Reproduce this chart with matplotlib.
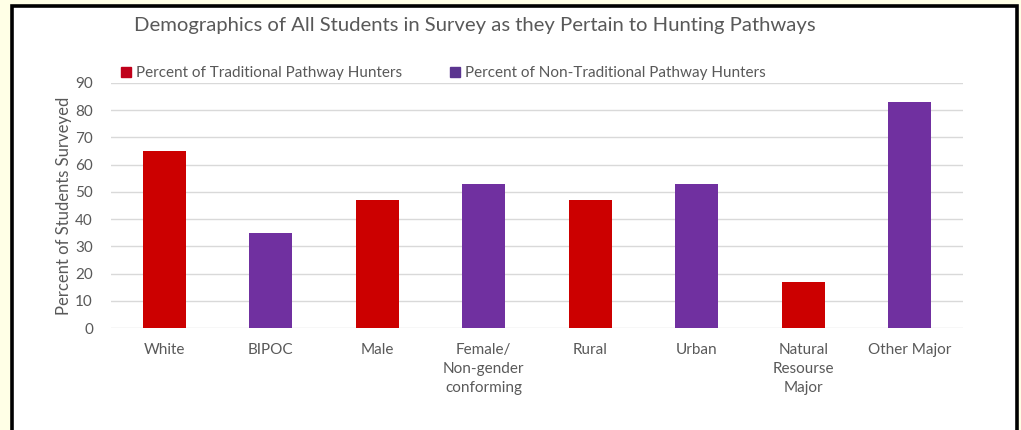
import matplotlib
matplotlib.use("Agg")
import matplotlib.pyplot as plt
from matplotlib.patches import Rectangle
from matplotlib.lines import Line2D
import numpy as np

categories = ["White", "BIPOC", "Male", "Female/\nNon-gender\nconforming",
              "Rural", "Urban", "Natural\nResourse\nMajor", "Other Major"]
traditional = [65, None, 47, None, 47, None, 17, None]
non_traditional = [None, 35, None, 53, None, 53, None, 83]
series_names = ["Percent of Traditional Pathway Hunters",
                "Percent of Non-Traditional Pathway Hunters"]
y_ticks = [0, 10, 20, 30, 40, 50, 60, 70, 80, 90]

RED = "#CC0000"
PURPLE = "#7030A0"
GRAY = "#595959"

plt.rcParams['font.family'] = ['Lato', 'DejaVu Sans']

W, H = 1021, 430
fig = plt.figure(figsize=(W / 100, H / 100), dpi=100)
fig.patch.set_facecolor("#FFFFE6")

# white panel with black frame
fig.patches.append(Rectangle((11.5 / W, -0.05), (1016.5 - 11.5) / W, (H - 5.5) / H + 0.05,
                             transform=fig.transFigure, facecolor="white",
                             edgecolor="black", linewidth=2.6, zorder=-10))

ax = fig.add_axes([111 / W, (H - 328) / H, (963 - 111) / W, (328 - 83) / H])
ax.set_facecolor("none")
ax.set_zorder(1)

x = np.arange(len(categories))
t_x = [i for i, v in enumerate(traditional) if v is not None]
t_v = [v for v in traditional if v is not None]
n_x = [i for i, v in enumerate(non_traditional) if v is not None]
n_v = [v for v in non_traditional if v is not None]
ax.bar(t_x, t_v, width=0.4, color=RED, zorder=3)
ax.bar(n_x, n_v, width=0.4, color=PURPLE, zorder=3)

ax.set_xlim(-0.5, len(categories) - 0.5)
ax.set_ylim(0, 90)
ax.set_yticks(y_ticks)
ax.yaxis.grid(True, color="#D9D9D9", linewidth=1.0, zorder=0)
ax.set_axisbelow(True)
for s in ax.spines.values():
    s.set_visible(False)
ax.tick_params(axis="both", length=0, colors=GRAY, labelsize=11)
ax.tick_params(axis="y", pad=13)
ax.tick_params(axis="x", pad=11)
ax.set_xticks(x)
ax.set_xticklabels(categories, linespacing=1.45)
ax.set_ylabel("Percent of Students Surveyed", color=GRAY, fontsize=12, labelpad=2)

fig.text(475 / W, 1 - 25 / H, "Demographics of All Students in Survey as they Pertain to Hunting Pathways",
         ha="center", va="center", fontsize=14.6, color=GRAY)

handles = [Line2D([], [], marker="s", linestyle="none", markersize=6.5, color="#C0001A"),
           Line2D([], [], marker="s", linestyle="none", markersize=6.5, color="#5B3590")]
fig.legend(handles, series_names, loc="center left", bbox_to_anchor=(118 / W, 1 - 73 / H),
           ncol=2, frameon=False, fontsize=11, labelcolor=GRAY, handletextpad=0.15,
           columnspacing=3.0, handlelength=1.0, borderaxespad=0, borderpad=0)

fig.savefig("out.png", dpi=100, facecolor=fig.get_facecolor())
